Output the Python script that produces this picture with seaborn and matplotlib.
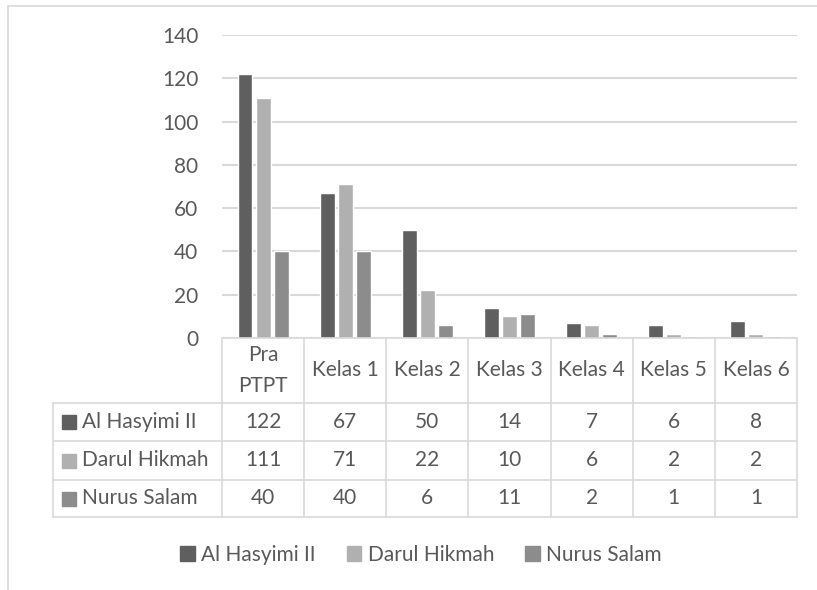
import numpy as np
import pandas as pd
import seaborn as sns
import matplotlib.pyplot as plt
from matplotlib.lines import Line2D
from matplotlib.patches import Rectangle
from matplotlib.transforms import blended_transform_factory

categories = ['Pra\nPTPT', 'Kelas 1', 'Kelas 2', 'Kelas 3', 'Kelas 4', 'Kelas 5', 'Kelas 6']
schools = ['Al Hasyimi II', 'Darul Hikmah', 'Nurus Salam']
al_hasyimi = [122, 67, 50, 14, 7, 6, 8]
darul_hikmah = [111, 71, 22, 10, 6, 2, 2]
nurus_salam = [40, 40, 6, 11, 2, 1, 1]
colors = ['#5f5f5f', '#b0b0b0', '#8c8c8c']

values = [al_hasyimi, darul_hikmah, nurus_salam]
df = pd.DataFrame({
    'kelas': categories * len(schools),
    'sekolah': np.repeat(schools, len(categories)),
    'jumlah': al_hasyimi + darul_hikmah + nurus_salam,
})

sns.set_theme(style='white')
plt.rcParams['font.family'] = ['Lato', 'DejaVu Sans']
text_color = '#595959'
grid_color = '#d9d9d9'
fs = 15

W, H = 817, 590
fig = plt.figure(figsize=(W / 100, H / 100), dpi=100)
ax = fig.add_axes([222 / W, 1 - 338 / H, (797 - 222) / W, (338 - 35) / H])

sns.barplot(data=df, x='kelas', y='jumlah', hue='sekolah', order=categories,
            hue_order=schools, palette=colors, width=0.66, gap=0.17,
            saturation=1, ax=ax, legend=False)

ax.set_xlim(-0.5, 6.5)
ax.set_ylim(0, 140)
ax.set_yticks(range(0, 141, 20))
ax.yaxis.grid(True, color=grid_color, lw=1.5)
ax.set_axisbelow(True)
ax.set_xticks([])
ax.set_xlabel('')
ax.set_ylabel('')
for s in ax.spines.values():
    s.set_visible(False)
ax.tick_params(axis='y', length=0, pad=17, labelsize=fs, labelcolor=text_color)

# --- data table under the plot ---
trans = blended_transform_factory(ax.transData, fig.transFigure)
def fy(px):
    return 1 - px / H
px_unit = 7 / (797 - 222)
label_left = -0.5 - (222 - 53) * px_unit
rows = [338, 403, 441, 480, 517]
lw = 1.2

ax.add_line(Line2D([-0.5, 6.5], [fy(rows[0])] * 2, color=grid_color, lw=lw,
                   transform=trans, clip_on=False))
for r in rows[1:]:
    ax.add_line(Line2D([label_left, 6.5], [fy(r)] * 2, color=grid_color, lw=lw,
                       transform=trans, clip_on=False))
for i in range(len(categories) + 1):
    ax.add_line(Line2D([i - 0.5] * 2, [fy(rows[0]), fy(rows[-1])], color=grid_color,
                       lw=lw, transform=trans, clip_on=False))
ax.add_line(Line2D([label_left] * 2, [fy(rows[1]), fy(rows[-1])], color=grid_color,
                   lw=lw, transform=trans, clip_on=False))

for i, cat in enumerate(categories):
    ax.text(i, fy((rows[0] + rows[1]) / 2), cat, transform=trans, ha='center',
            va='center', fontsize=fs, color=text_color, linespacing=1.65)

for j, (name, vals, col) in enumerate(zip(schools, values, colors)):
    yc = fy((rows[j + 1] + rows[j + 2]) / 2)
    ax.add_line(Line2D([label_left + 16 * px_unit], [yc], marker='s', markersize=10,
                       color=col, lw=0, transform=trans, clip_on=False))
    ax.text(label_left + 29 * px_unit, yc, name, transform=trans, ha='left',
            va='center', fontsize=fs, color=text_color)
    for i, v in enumerate(vals):
        ax.text(i, yc, str(v), transform=trans, ha='center', va='center',
                fontsize=fs, color=text_color)

# legend
handles = [Rectangle((0, 0), 1, 1, color=c) for c in colors]
fig.legend(handles, schools, ncol=3, loc='center', bbox_to_anchor=(421 / W, fy(555)),
           frameon=False, handlelength=0.7, handleheight=0.7, handletextpad=0.3,
           columnspacing=1.5, fontsize=fs, labelcolor=text_color)

# chart area border (left and top visible)
fig.add_artist(Line2D([8 / W, 8 / W], [0, fy(6)], color=grid_color, lw=1.2))
fig.add_artist(Line2D([8 / W, 1], [fy(6), fy(6)], color=grid_color, lw=1.2))

fig.savefig('out.png', dpi=100)
